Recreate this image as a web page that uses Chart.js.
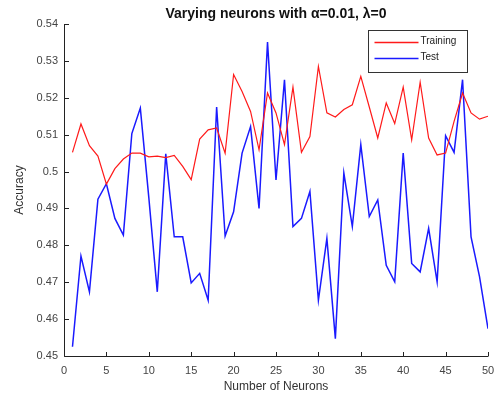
<!DOCTYPE html>
<html>
<head>
<meta charset="utf-8">
<script src="https://cdn.jsdelivr.net/npm/chart.js@4.4.1/dist/chart.umd.min.js"></script>
<style>
html,body{margin:0;padding:0;background:#fff;}
#wrap{width:494px;height:400px;position:relative;}
</style>
</head>
<body>
<div id="wrap"><canvas id="c" width="494" height="400"></canvas></div>
<script>
const titleText = "Varying neurons with \u03b1=0.01, \u03bb=0";
const xLabel = "Number of Neurons";
const yLabel = "Accuracy";
const seriesNames = ["Training", "Test"];
const neurons = [1,2,3,4,5,6,7,8,9,10,11,12,13,14,15,16,17,18,19,20,21,22,23,24,25,26,27,28,29,30,31,32,33,34,35,36,37,38,39,40,41,42,43,44,45,46,47,48,49,50];
const training = [0.5052,0.5129,0.5070,0.5042,0.4966,0.5008,0.5034,0.5050,0.5050,0.5040,
                  0.5042,0.5038,0.5044,0.5014,0.4978,0.5088,0.5113,0.5118,0.5050,0.5263,
                  0.5217,0.5163,0.5059,0.5213,0.5159,0.5073,0.5229,0.5052,0.5095,0.5285,
                  0.5159,0.5148,0.5168,0.5181,0.5258,0.5175,0.5091,0.5186,0.5130,0.5229,
                  0.5086,0.5242,0.5091,0.5045,0.5050,0.5136,0.5213,0.5159,0.5142,0.5150];
const test = [0.4525,0.4771,0.4674,0.4925,0.4967,0.4873,0.4828,0.5103,0.5172,0.4930,
              0.4674,0.5048,0.4823,0.4823,0.4698,0.4724,0.4651,0.5175,0.4825,0.4891,
              0.5050,0.5122,0.4900,0.5351,0.4977,0.5249,0.4851,0.4873,0.4946,0.4651,
              0.4819,0.4547,0.4996,0.4851,0.5073,0.4878,0.4923,0.4746,0.4701,0.5050,
              0.4751,0.4728,0.4846,0.4701,0.5097,0.5052,0.5249,0.4823,0.4715,0.4574];
const xTicks = [0,5,10,15,20,25,30,35,40,45,50];
const yTicks = [0.45,0.46,0.47,0.48,0.49,0.5,0.51,0.52,0.53,0.54];

const FONT = "'Liberation Sans', Arial, sans-serif";

const axesPlugin = {
  id: 'matlabAxes',
  afterDraw(chart) {
    const ctx = chart.ctx, ca = chart.chartArea;
    const xs = chart.scales.x, ys = chart.scales.y;
    ctx.save();
    ctx.fillStyle = '#111';
    ctx.font = "bold 14px " + FONT;
    ctx.textAlign = 'center';
    ctx.textBaseline = 'middle';
    ctx.fillText(titleText, (ca.left + ca.right) / 2, 14);

    ctx.strokeStyle = '#222';
    ctx.lineWidth = 1;
    ctx.beginPath();
    ctx.moveTo(Math.round(ca.left)+0.5, ca.top);
    ctx.lineTo(Math.round(ca.left)+0.5, Math.round(ca.bottom)+0.5);
    ctx.lineTo(ca.right, Math.round(ca.bottom)+0.5);
    ctx.stroke();
    ctx.beginPath();
    xTicks.forEach(v => {
      const px = Math.round(xs.getPixelForValue(v))+0.5;
      ctx.moveTo(px, Math.round(ca.bottom)+0.5);
      ctx.lineTo(px, Math.round(ca.bottom)-4);
    });
    yTicks.forEach(v => {
      const py = Math.round(ys.getPixelForValue(v))+0.5;
      ctx.moveTo(Math.round(ca.left)+0.5, py);
      ctx.lineTo(Math.round(ca.left)+5, py);
    });
    ctx.stroke();

    const bw = 99, bh = 42;
    const bx = Math.round(ca.right - 21 - bw) + 0.5;
    const by = Math.round(ca.top + 6) + 0.5;
    ctx.fillStyle = '#fff';
    ctx.fillRect(bx, by, bw, bh);
    ctx.strokeStyle = '#333';
    ctx.strokeRect(bx, by, bw, bh);
    ctx.font = "10px " + FONT;
    ctx.textAlign = 'left';
    ctx.textBaseline = 'middle';
    chart.data.datasets.forEach((ds, i) => {
      const ly = by + 11 + i * 16;
      ctx.strokeStyle = ds.borderColor;
      ctx.lineWidth = 1.3;
      ctx.beginPath();
      ctx.moveTo(bx + 6, Math.round(ly)+0.5);
      ctx.lineTo(bx + 50, Math.round(ly)+0.5);
      ctx.stroke();
      ctx.fillStyle = '#222';
      ctx.fillText(ds.label, bx + 52, ly);
    });
    ctx.restore();
  }
};

new Chart(document.getElementById('c'), {
  type: 'line',
  data: {
    datasets: [
      { label: seriesNames[0], data: neurons.map((n,i)=>({x:n,y:training[i]})),
        borderColor: '#ff1a1a', borderWidth: 1.2, pointRadius: 0, tension: 0, fill: false },
      { label: seriesNames[1], data: neurons.map((n,i)=>({x:n,y:test[i]})),
        borderColor: '#1a1aff', borderWidth: 1.5, pointRadius: 0, tension: 0, fill: false }
    ]
  },
  options: {
    responsive: false,
    animation: false,
    devicePixelRatio: 1,
    layout: { padding: { left: 12, right: 0, top: 24, bottom: 6 } },
    plugins: {
      legend: { display: false },
      tooltip: { enabled: false },
      title: { display: false }
    },
    scales: {
      x: {
        type: 'linear', min: 0, max: 50,
        afterBuildTicks(s) { s.ticks = xTicks.map(v => ({ value: v })); },
        afterFit(s) { s.height = 38; s.paddingRight = 6; s.paddingLeft = 0; },
        ticks: { color: '#444', font: { family: FONT, size: 11 }, padding: 8, maxRotation: 0, autoSkip: false },
        grid: { display: false, drawTicks: false },
        border: { display: false },
        title: { display: true, text: xLabel, color: '#333', font: { family: FONT, size: 12 }, padding: { top: 0, bottom: 0 } }
      },
      y: {
        min: 0.45, max: 0.54,
        afterBuildTicks(s) { s.ticks = yTicks.map(v => ({ value: v })); },
        afterFit(s) { s.width = 52; },
        ticks: { color: '#444', font: { family: FONT, size: 11 }, padding: 6, autoSkip: false,
                 callback: v => String(Number(Number(v).toFixed(2))) },
        grid: { display: false, drawTicks: false },
        border: { display: false },
        title: { display: true, text: yLabel, color: '#333', font: { family: FONT, size: 12 }, padding: { top: 0, bottom: 2 } }
      }
    }
  },
  plugins: [axesPlugin]
});
</script>
</body>
</html>
